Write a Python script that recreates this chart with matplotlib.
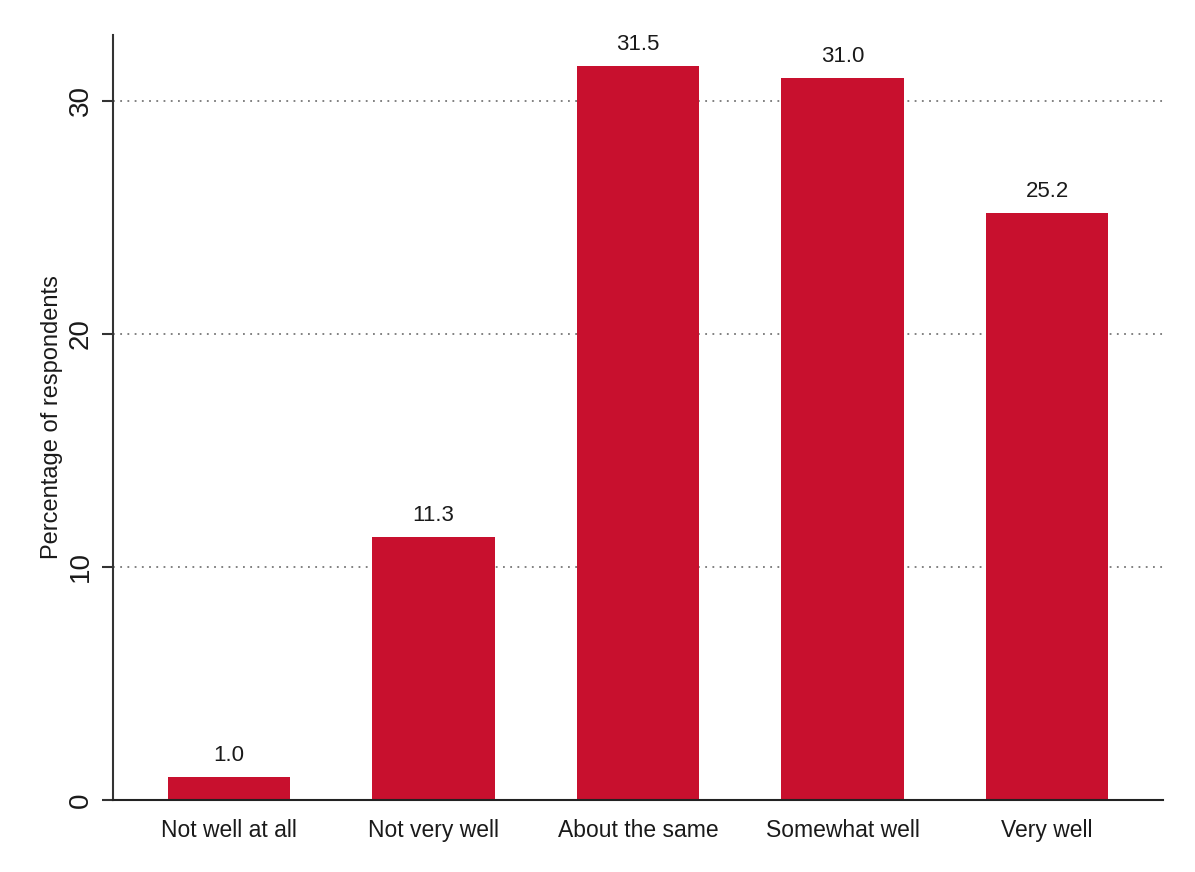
import matplotlib
matplotlib.use("Agg")
import matplotlib.pyplot as plt
import numpy as np

# Data
categories = ["Not well at all", "Not very well", "About the same", "Somewhat well", "Very well"]
percentages = [1.0, 11.3, 31.5, 31.0, 25.2]
y_ticks = [0, 10, 20, 30]

plt.rcParams['font.family'] = ['Liberation Sans', 'DejaVu Sans']

fig = plt.figure(figsize=(11.95, 8.72), dpi=100)
ax = fig.add_axes([113 / 1195, 1 - 800 / 872, (1163 - 113) / 1195, (800 - 35) / 872])

x = np.arange(len(categories))
bars = ax.bar(x, percentages, width=0.6, color='#C8102E', zorder=3)

# value labels above the bars
for xi, v in zip(x, percentages):
    ax.annotate("%.1f" % v, (xi, v), xytext=(0, 8), textcoords='offset points',
                ha='center', va='bottom', fontsize=16, color='#1a1a1a')

ax.set_xlim(-0.567, len(categories) - 1 + 0.567)
ax.set_ylim(0, 32.83)
ax.set_xticks(x)
ax.set_xticklabels(categories, fontsize=16.5, color='#1a1a1a')
ax.set_yticks(y_ticks)
ax.set_yticklabels([str(t) for t in y_ticks], fontsize=20, rotation=90, va='center', color='#1a1a1a')
ax.tick_params(axis='x', length=0, pad=14)
ax.tick_params(axis='y', length=8, width=1.5, color='#333333', pad=6)

for t in y_ticks:
    ax.axhline(t, color='#777777', linestyle=(0, (1, 3)), linewidth=1.3, zorder=1)

ax.spines['top'].set_visible(False)
ax.spines['right'].set_visible(False)
ax.spines['left'].set_linewidth(1.5)
ax.spines['left'].set_color('#333333')
ax.spines['bottom'].set_linewidth(1.5)
ax.spines['bottom'].set_color('#222222')
ax.spines['bottom'].set_zorder(4)

ax.set_ylabel("Percentage of respondents", fontsize=17, color='#1a1a1a', labelpad=3)

fig.savefig("out.png", dpi=100)
